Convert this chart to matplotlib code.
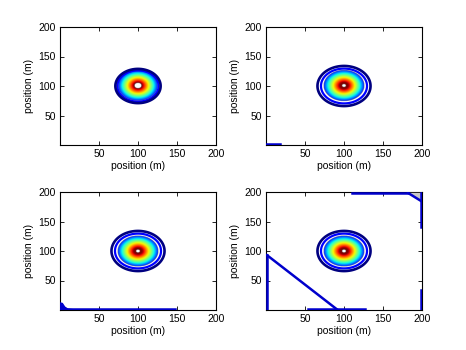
import matplotlib.pyplot as plt
import numpy as np

# ring radii (m), centre of the plume at (100, 100)
centre = (100, 100)
outer_ring = [29, 34, 34, 34]
inner_ring = [26.5, 29.5, 29.5, 29.5]
fill_edge = [25.5, 26, 26, 26]
hot_core = [4.5, 2.5, 2.5, 2.5]

ticks = [50, 100, 150, 200]

# low level contours stuck to the domain edges
edge_lines = [
    [],
    [([0, 18], [1, 1])],
    [([0, 148], [1.2, 1.2])],
    [([1.2, 1.2], [0, 93]), ([1.2, 92], [93, 0]), ([54, 127], [1.2, 1.2]),
     ([198.5, 198.5], [0, 34]), ([110, 182], [198.5, 198.5]),
     ([182, 198.5], [198.5, 185]), ([198.5, 198.5], [198.5, 140])],
]
corner_blob_x = [0, 0, 3, 6, 10, 20]
corner_blob_y = [0, 12, 11, 5, 1.5, 0]
grey_corner_x = [183, 198.5, 198.5]
grey_corner_y = [198.5, 198.5, 186]

x = np.linspace(0, 200, 801)
X, Y = np.meshgrid(x, x)
R = np.hypot(X - centre[0], Y - centre[1])

fig = plt.figure(figsize=(4.66, 3.5), dpi=100)
plt.rcParams['font.family'] = ['Liberation Sans', 'DejaVu Sans']
lefts = [60, 266, 60, 266]
bottoms = [145, 145, 310, 310]
jet = plt.get_cmap('jet')

for i in range(4):
    ax = fig.add_axes([lefts[i] / 466, 1 - bottoms[i] / 350, 156 / 466, 118 / 350])
    inside = np.ma.masked_where((R > fill_edge[i]) | (R < hot_core[i]), R)
    ax.imshow(inside, extent=(0, 200, 0, 200), origin='lower', cmap='jet_r',
              vmin=0.2 * fill_edge[i], vmax=1.14 * fill_edge[i],
              interpolation='bilinear', aspect='auto')
    ax.contour(X, Y, R, levels=[inner_ring[i]], colors=[jet(0.12)], linewidths=1.6)
    ax.contour(X, Y, R, levels=[outer_ring[i]], colors=[jet(0.0)], linewidths=1.9)
    for xs, ys in edge_lines[i]:
        ax.plot(xs, ys, color=(0, 0, 0.8), lw=1.8, zorder=5)
    if i == 2:
        ax.fill(corner_blob_x, corner_blob_y, color=(0, 0, 0.8), zorder=5)
    if i == 3:
        ax.fill(grey_corner_x, grey_corner_y, color='0.78', zorder=4)
    ax.set_xlim(0, 200)
    ax.set_ylim(0, 200)
    ax.set_xticks(ticks)
    ax.set_yticks(ticks)
    ax.tick_params(direction='in', length=3, width=0.6, top=True, right=True, labelsize=7.5, pad=3)
    for s in ax.spines.values():
        s.set_linewidth(0.8)
    ax.set_xlabel('position (m)', fontsize=7.5, labelpad=1)
    ax.set_ylabel('position (m)', fontsize=7.5, labelpad=3)

fig.savefig('out.png', dpi=100)
